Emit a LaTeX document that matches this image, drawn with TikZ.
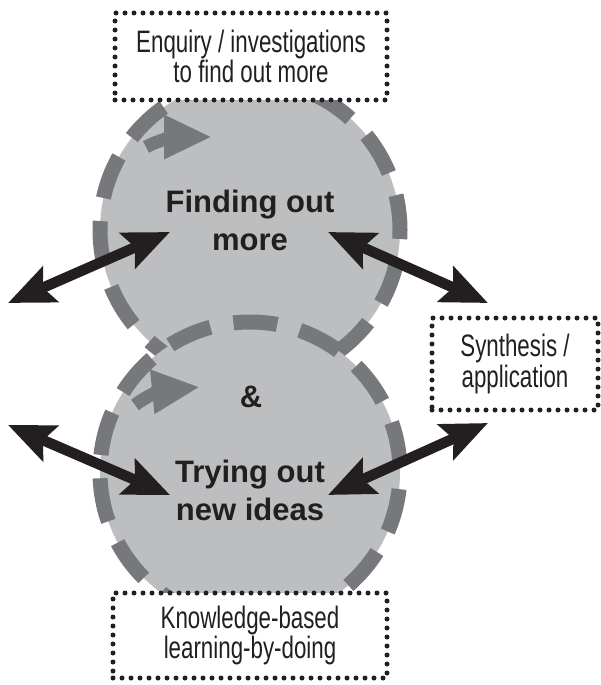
\documentclass[tikz,border=0pt]{standalone}
\usepackage{fontspec}
\setmainfont{Liberation Sans}
\newfontfamily\lightcond[FakeStretch=0.72]{Liberation Sans}
\usetikzlibrary{arrows.meta}
\definecolor{fillgray}{HTML}{BCBEC0}
\definecolor{dashgray}{HTML}{77787B}
\definecolor{inkblack}{HTML}{231F20}
\begin{document}
\begin{tikzpicture}[x=1pt,y=-1pt,
  cyclecircle/.style={circle, minimum size=300pt, inner sep=0pt, fill=fillgray, draw=dashgray, line width=15pt, dash pattern=on 44pt off 23.32pt},
  cyclearrow/.style={draw=dashgray, line width=13pt, -{Triangle[length=48pt,width=41pt]}},
  linkarrow/.style={draw=inkblack, line width=10.5pt, {Stealth[length=46pt,width=38pt,inset=8pt]}-{Stealth[length=46pt,width=38pt,inset=8pt]}},
  dotbox/.style={draw=inkblack, fill=white, line width=5pt, line cap=round, dash pattern=on 0pt off 9pt, inner sep=0pt, align=center, text=inkblack, font=\lightcond\fontsize{31}{30.5}\selectfont},
  bigtext/.style={align=center, text=inkblack, inner sep=0pt, font=\bfseries\fontsize{31}{38}\selectfont}]
\fill[white] (0,0) rectangle (600,685);
\useasboundingbox (0,0) rectangle (600,685);

% top circle
\node[cyclecircle, dash phase=8.9pt] (topc) at (250,230) {};
\coordinate (ta0) at (146,147);
\coordinate (ta1) at (212,137);
\draw[cyclearrow] (ta0) .. controls (156,141) and (175,137) .. (ta1);

% bottom circle
\node[cyclecircle, dash phase=61pt] (botc) at (250,472) {};
\coordinate (ba0) at (135,405);
\coordinate (ba1) at (200,387);
\draw[cyclearrow] (ba0) .. controls (145,397) and (160,391) .. (ba1);

% texts
\node[bigtext] (findtxt) at (250,220.5) {Finding out\\more};
\node[bigtext, anchor=base] (amp) at (251,407) {\&};
\node[bigtext] (trytxt) at (250,490.5) {Trying out\\new ideas};

% link arrows
\coordinate (lt) at (8,303);
\coordinate (ltin) at (170,232);
\coordinate (rtin) at (328,232);
\coordinate (rt) at (488,303);
\coordinate (lb) at (8,425);
\coordinate (lbin) at (170,495);
\coordinate (rbin) at (328,495);
\coordinate (rb) at (488,423);
\draw[linkarrow] (lt) -- (ltin);
\draw[linkarrow] (rtin) -- (rt);
\draw[linkarrow] (lb) -- (lbin);
\draw[linkarrow] (rbin) -- (rb);

% boxes
\node[dotbox, minimum width=272pt, minimum height=87pt] (enq) at (251,56.5) {Enquiry / investigations\\to find out more};
\node[dotbox, minimum width=166pt, minimum height=92pt] (syn) at (515,364) {Synthesis /\\application};
\node[dotbox, minimum width=274pt, minimum height=85pt] (kno) at (250,635.5) {Knowledge-based\\learning-by-doing};
\end{tikzpicture}
\end{document}
